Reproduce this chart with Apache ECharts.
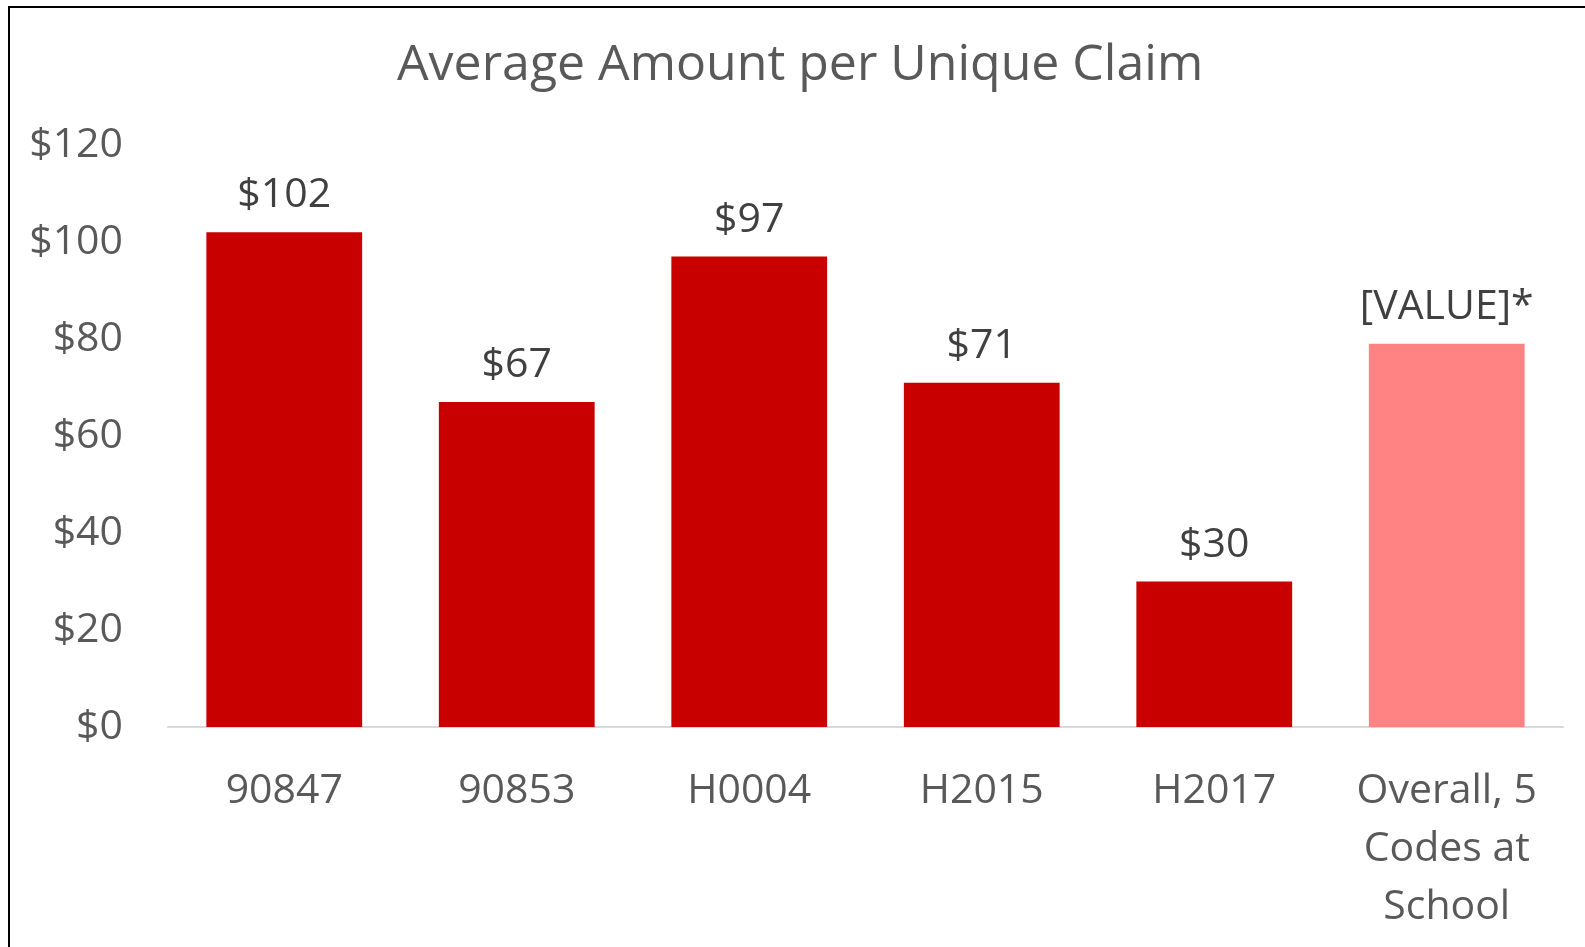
<!DOCTYPE html>
<html>
<head>
<meta charset="utf-8">
<script src="https://cdn.jsdelivr.net/npm/echarts@6/dist/echarts.min.js"></script>
<style>
  html, body { margin: 0; padding: 0; background: #fff; }
  #frame { position: absolute; left: 8px; top: 6px; width: 1577px; height: 941px;
           border-left: 2px solid #000; border-top: 2px solid #000; }
  #chart { position: absolute; left: 0; top: 0; width: 1585px; height: 947px; }
</style>
</head>
<body>
<div id="frame"></div>
<div id="chart"></div>
<script>
var categories = ['90847', '90853', 'H0004', 'H2015', 'H2017', 'Overall, 5\nCodes at\nSchool'];
var amounts = [102, 67, 97, 71, 30, 79];
var barColors = ['#C80000', '#C80000', '#C80000', '#C80000', '#C80000', '#FF8383'];
var overallLabel = '[VALUE]*';
var yTicks = [0, 20, 40, 60, 80, 100, 120];

var chart = echarts.init(document.getElementById('chart'));

var seriesData = amounts.map(function (v, i) {
    return { value: v, itemStyle: { color: barColors[i] } };
});

option = {
    animation: false,
    title: {
        text: 'Average Amount per Unique Claim',
        left: 392,
        top: 36,
        textStyle: {
            fontFamily: 'Open Sans',
            fontSize: 50,
            fontWeight: 'normal',
            color: '#595959'
        }
    },
    grid: {
        left: 168,
        right: 22,
        top: 145,
        bottom: 220
    },
    xAxis: {
        type: 'category',
        data: categories,
        axisLine: { lineStyle: { color: '#D9D9D9', width: 2 } },
        axisTick: { show: false },
        axisLabel: {
            interval: 0,
            margin: 35,
            fontFamily: 'Open Sans',
            fontSize: 41,
            lineHeight: 58,
            color: '#595959'
        }
    },
    yAxis: {
        type: 'value',
        min: yTicks[0],
        max: yTicks[yTicks.length - 1],
        interval: 20,
        splitLine: { show: false },
        axisLine: { show: false },
        axisTick: { show: false },
        axisLabel: {
            margin: 45,
            fontFamily: 'Open Sans',
            fontSize: 41,
            color: '#595959',
            formatter: function (v) { return '$' + v; }
        }
    },
    series: [{
        type: 'bar',
        data: seriesData,
        barCategoryGap: '33%',
        label: {
            show: true,
            position: 'top',
            distance: 16,
            fontFamily: 'Open Sans',
            fontSize: 41,
            color: '#404040',
            formatter: function (p) {
                return p.dataIndex === amounts.length - 1 ? overallLabel : '$' + p.value;
            }
        }
    }]
};
chart.setOption(option);
</script>
</body>
</html>
